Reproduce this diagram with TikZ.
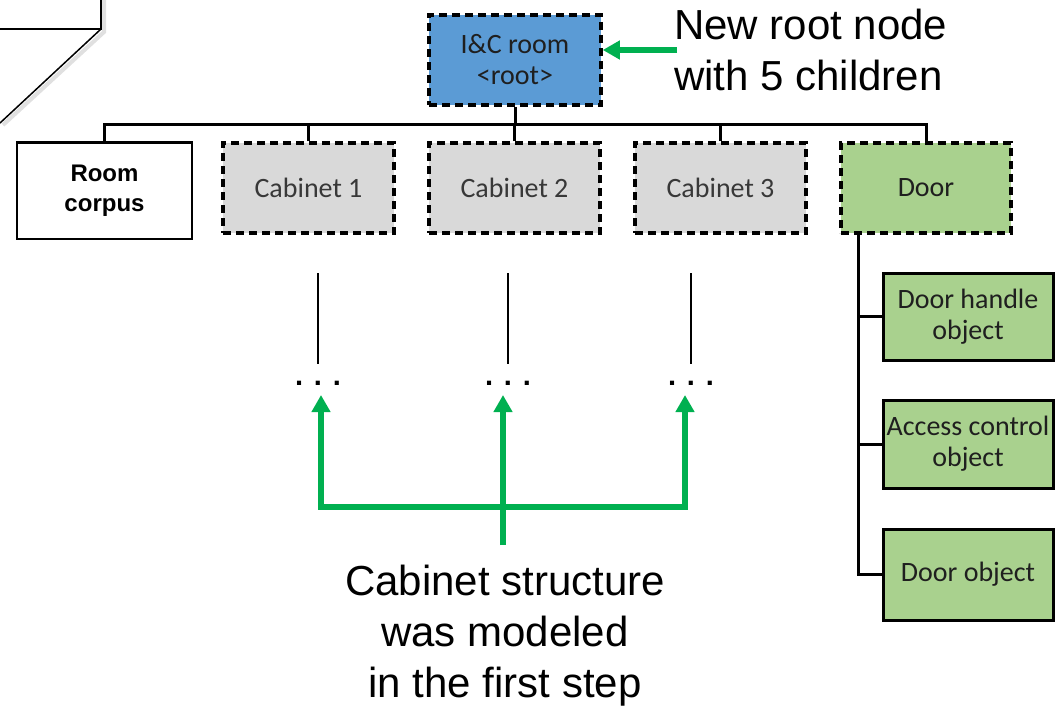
\documentclass[tikz,border=0pt]{standalone}
\usepackage{fontspec}
\setmainfont{Liberation Sans}
\newfontfamily\calibri{Carlito}
\usetikzlibrary{arrows.meta}
\definecolor{rootblue}{HTML}{5B9BD5}
\definecolor{cabgray}{HTML}{D9D9D9}
\definecolor{doorgreen}{HTML}{A9D18E}
\definecolor{arrowgreen}{HTML}{00B050}

\begin{document}
\begin{tikzpicture}[x=1pt,y=-1pt,
  box/.style={draw=black, line width=3pt, minimum width=171pt, minimum height=90pt,
    inner sep=0pt, align=center, text=black!88,
    font=\calibri\fontsize{28}{31}\selectfont},
  dashbox/.style={box, line width=3.5pt, dash pattern=on 8pt off 5pt},
  treeline/.style={line width=3pt, black},
  hangline/.style={line width=2.2pt, black},
  garrow/.style={line width=5.5pt, arrowgreen,
    -{Triangle[length=17pt,width=18pt]}},
  gline/.style={line width=5.5pt, arrowgreen},
  note/.style={inner sep=0pt, font=\fontsize{42}{51}\selectfont},
  dotsnode/.style={inner sep=0pt, font=\fontsize{29}{30}\selectfont\bfseries}
]
\useasboundingbox (0,0) rectangle (1055,705);

% partial outline in the upper left corner
\draw[black!12, line width=4pt] (104,0) -- (104,32) -- (3,125);
\draw[line width=1.5pt] (0,29) -- (101,29) -- (101,0);
\draw[line width=1.5pt] (101,29) -- (0,123);

% root node and its children
\node[dashbox, fill=rootblue, minimum width=172pt] (root) at (515,60) {I\&C room\\<root>};

\node[box, line width=1.5pt, minimum width=175pt, minimum height=96pt, text=black,
      font=\fontsize{24}{30}\selectfont\bfseries] (room) at (104.5,191) {Room\\corpus};
\draw[line width=3.5pt] (room.north west) -- (room.north east);

\node[dashbox, fill=cabgray, text=black!78] (cab1) at (308.5,188) {Cabinet 1};
\node[dashbox, fill=cabgray, text=black!78] (cab2) at (514.5,188) {Cabinet 2};
\node[dashbox, fill=cabgray, text=black!78] (cab3) at (720.5,188) {Cabinet 3};
\node[dashbox, fill=doorgreen, minimum width=170pt] (door) at (926,188) {Door};

% door sub-objects
\node[box, fill=doorgreen, minimum width=170pt, minimum height=87pt] (handle) at (968,316.5) {Door handle\\object};
\node[box, fill=doorgreen, minimum width=170pt, minimum height=88pt] (access) at (968,444) {Access control\\object};
\node[box, fill=doorgreen, minimum width=170pt, minimum height=91pt] (dobj) at (968,574.5) {Door object};

% tree connectors
\coordinate (bar) at (0,124);
\draw[treeline] (root.south) -- (root.south |- bar);
\draw[treeline] (room.north) -- (room.north |- bar) -- (door.north |- bar) -- (door.north);
\draw[treeline] (cab1.north) -- (cab1.north |- bar);
\draw[treeline] (cab2.north) -- (cab2.north |- bar);
\draw[treeline] (cab3.north) -- (cab3.north |- bar);

\coordinate (trunk) at (858,233);
\draw[treeline] (trunk) |- (dobj.west);
\draw[treeline] (trunk |- handle.west) -- (handle.west);
\draw[treeline] (trunk |- access.west) -- (access.west);

% collapsed cabinet subtrees
\coordinate (h1) at (318,273);
\coordinate (h2) at (508,273);
\coordinate (h3) at (691,273);
\node[dotsnode] (d1) at (318,383) {. . .};
\node[dotsnode] (d2) at (508,383) {. . .};
\node[dotsnode] (d3) at (691,383) {. . .};
\draw[hangline] (h1) -- (h1 |- 0,364);
\draw[hangline] (h2) -- (h2 |- 0,364);
\draw[hangline] (h3) -- (h3 |- 0,364);

% annotation: new root
\node[note, anchor=north west, align=left] (newroot) at (674,9) {New root node\\with 5 children};
\coordinate (rs) at (677,50);
\draw[garrow] (rs) -- (root.east |- rs);

% annotation: cabinet structure
\node[note, anchor=north, align=center] (cabnote) at (505,565) {Cabinet structure\\was modeled\\in the first step};
\coordinate (stem) at (503,545);
\coordinate (j) at (503,507);
\coordinate (t1) at (321,395);
\coordinate (t2) at (503,395);
\coordinate (t3) at (685,395);
\draw[gline] (stem) -- (j);
\draw[garrow] (j) -- (t2);
\draw[garrow] (j) -| (t1);
\draw[garrow] (j) -| (t3);
\end{tikzpicture}
\end{document}
